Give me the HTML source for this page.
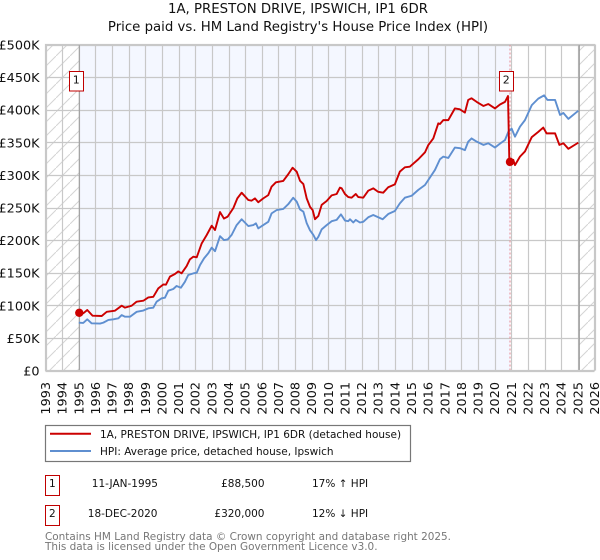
<!DOCTYPE html>
<html lang="en">
<head>
<meta charset="utf-8">
<title>1A, Preston Drive price chart</title>
<style>
html,body{margin:0;padding:0;background:#fff;width:600px;height:560px;overflow:hidden}
svg{display:block}
text{font-family:"DejaVu Sans","Liberation Sans",sans-serif;fill:#111}
</style>
</head>
<body>
<svg id="chart" xmlns="http://www.w3.org/2000/svg" width="600" height="560" viewBox="0 0 600 560">
  <defs>
    <pattern id="hatch" width="14" height="14" patternUnits="userSpaceOnUse">
      <path d="M-1 15 L15 -1" stroke="#d4d4d4" stroke-width="1" fill="none"/>
    </pattern>
  </defs>
  <text x="298" y="13" text-anchor="middle" font-size="13.3">1A, PRESTON DRIVE, IPSWICH, IP1 6DR</text>
  <text x="298" y="31" text-anchor="middle" font-size="13.3">Price paid vs. HM Land Registry's House Price Index (HPI)</text>
  <g id="plot"></g>

  <g>
    <rect x="45.5" y="425.5" width="365" height="36" fill="#fff" stroke="#777" stroke-width="1.2"/>
    <line x1="50" x2="91" y1="433.7" y2="433.7" stroke="#cc0000" stroke-width="2"/>
    <text x="100" y="438" font-size="10.5">1A, PRESTON DRIVE, IPSWICH, IP1 6DR (detached house)</text>
    <line x1="50" x2="91" y1="451" y2="451" stroke="#5f8fd0" stroke-width="2"/>
    <text x="100" y="455" font-size="10.5">HPI: Average price, detached house, Ipswich</text>
  </g>

  <g>
    <rect x="45.5" y="475.5" width="14" height="20" fill="#fff" stroke="#c00000" stroke-width="1"/>
    <text x="52.3" y="487" text-anchor="middle" font-size="10.5">1</text>
    <text x="158" y="487" text-anchor="end" font-size="10.5">11-JAN-1995</text>
    <text x="264.5" y="487" text-anchor="end" font-size="10.5">£88,500</text>
    <text x="312" y="487" font-size="10.5">17% ↑ HPI</text>
  </g>
  <g>
    <rect x="45.5" y="505.5" width="14" height="20" fill="#fff" stroke="#c00000" stroke-width="1"/>
    <text x="52.3" y="517" text-anchor="middle" font-size="10.5">2</text>
    <text x="157.5" y="517" text-anchor="end" font-size="10.5">18-DEC-2020</text>
    <text x="264.5" y="517" text-anchor="end" font-size="10.5">£320,000</text>
    <text x="312" y="517" font-size="10.5">12% ↓ HPI</text>
  </g>

  <text x="45" y="540" font-size="10.45" style="fill:#777">Contains HM Land Registry data © Crown copyright and database right 2025.</text>
  <text x="45" y="550" font-size="10.45" style="fill:#777">This data is licensed under the Open Government Licence v3.0.</text>
</svg>
<script>
const yearTicks = [1993,1994,1995,1996,1997,1998,1999,2000,2001,2002,2003,2004,2005,2006,2007,2008,2009,2010,2011,2012,2013,2014,2015,2016,2017,2018,2019,2020,2021,2022,2023,2024,2025,2026];
const priceTicks = [0,50,100,150,200,250,300,350,400,450,500];
const priceTickLabels = ["£0","£50K","£100K","£150K","£200K","£250K","£300K","£350K","£400K","£450K","£500K"];

const hpiDates = [1995.0,1995.27,1995.51,1995.77,1996.28,1996.48,1996.78,1997.08,1997.38,1997.58,1997.78,1998.08,1998.48,1998.88,1999.18,1999.48,1999.68,1999.98,2000.18,2000.38,2000.68,2000.88,2001.14,2001.38,2001.58,2001.89,2002.09,2002.29,2002.53,2002.79,2002.99,2003.19,2003.49,2003.73,2003.95,2004.19,2004.49,2004.79,2005.19,2005.49,2005.65,2005.79,2006.09,2006.39,2006.59,2006.89,2007.29,2007.59,2007.89,2008.10,2008.30,2008.50,2008.70,2008.90,2009.10,2009.26,2009.40,2009.60,2009.90,2010.20,2010.50,2010.76,2011.0,2011.20,2011.30,2011.50,2011.65,2011.90,2012.10,2012.40,2012.70,2013.0,2013.27,2013.60,2014.0,2014.30,2014.60,2015.01,2015.41,2015.81,2016.11,2016.41,2016.71,2016.91,2017.21,2017.61,2017.91,2018.21,2018.41,2018.61,2018.92,2019.32,2019.62,2020.02,2020.32,2020.62,2020.82,2021.02,2021.22,2021.52,2021.82,2022.23,2022.62,2022.97,2023.17,2023.63,2023.93,2024.13,2024.43,2025.03];
const hpiValues = [73.4,73,78.5,72.3,72,73.4,77.5,78.5,80,85,82.5,82.5,90,92,95.3,96.4,105.6,110.7,111.7,122.4,125,129.6,127,136,146.5,149,150,161.8,172,180,188.4,183,206,200,201,208,223,232,221.6,223,225.7,218,223,228,241,246,247.7,255,265,259,247,243.6,226,215,208,200,205,216.5,223,229,231,239.5,230,229,232,227,231,227,228,235,238.5,235,232,240,244.6,256.4,265,268,277,284.5,296,307.6,324,328,326,342,341,338,351,356,351,346,348.5,342,348,353.5,366,371,358.6,374,384,407,417,422,415,415,392,395,386,398.5];

const priceDates = [1995.03,1995.27,1995.51,1995.83,1996.38,1996.68,1997.18,1997.58,1997.78,1998.18,1998.48,1998.88,1999.18,1999.48,1999.78,2000.08,2000.24,2000.48,2000.78,2000.98,2001.18,2001.48,2001.68,2001.89,2002.09,2002.39,2002.69,2002.99,2003.19,2003.49,2003.73,2003.95,2004.29,2004.53,2004.79,2005.19,2005.39,2005.59,2005.79,2006.09,2006.39,2006.59,2006.85,2007.29,2007.59,2007.85,2008.10,2008.30,2008.50,2008.70,2008.90,2009.06,2009.20,2009.40,2009.60,2009.90,2010.20,2010.50,2010.70,2010.80,2011.0,2011.20,2011.40,2011.65,2011.80,2012.10,2012.40,2012.70,2013.0,2013.30,2013.60,2014.0,2014.30,2014.60,2014.90,2015.41,2015.81,2016.01,2016.31,2016.61,2016.71,2016.91,2017.21,2017.61,2017.91,2018.21,2018.41,2018.61,2018.92,2019.32,2019.62,2020.02,2020.32,2020.62,2020.80,2020.88,2020.92,2021.12,2021.22,2021.52,2021.82,2022.23,2022.62,2022.92,2023.12,2023.63,2023.89,2024.13,2024.43,2025.03];
const priceValues = [88.7,87.7,92.8,84,83.6,90,91.8,99.4,96.4,99.4,105.6,107,112,113,126,132,131.6,144,148,152,149,160,170.5,174.6,173.6,195,207.8,222,215.5,243,233,236,249,264,272.7,261.5,260.5,264,258,264,269,282,288.6,290.7,301,311,305,291,286,264,251,246,232,237,254,260,268.6,270.7,280.5,279.5,270.7,266,265,270.7,266,265,275.8,279.4,274,272.7,281,285.5,305,311.6,312.6,324,334.6,345.8,356,379,378,384,384,402,400.5,395.5,415,417.5,412,405.7,408.7,402,408,412,421,322,320,323,315,328,336,358,366,372.6,363.7,363.7,346,348.5,340,349.5];

const saleDates = [1995.03,2020.92];
const saleValues = [88.5,320];
const saleNames = ["1","2"];
const shadedStart = 1995.03;
const shadedEnd = 2020.92;
const dataEnd = 2025.08;

const SVGNS = "http://www.w3.org/2000/svg";
const plot = document.getElementById("plot");
const L = 45.5, R = 594.5, T = 44.5, B = 370.5;
function xAxis(year){ return L + (year - 1993) * (R - L) / 33; }
function yAxis(k){ return B - k * (B - T) / 500; }
function make(tag, attrs, text){
  const el = document.createElementNS(SVGNS, tag);
  for (const key in attrs) el.setAttribute(key, attrs[key]);
  if (text !== undefined) el.textContent = text;
  plot.appendChild(el);
  return el;
}

const bgEl = make("rect", {x:xAxis(shadedStart), y:T, width:xAxis(shadedEnd)-xAxis(shadedStart), height:B-T, fill:"#f4f7ff"});


const hatchLeft = make("rect", {x:L, y:T, width:xAxis(shadedStart)-L, height:B-T, fill:"url(#hatch)"});


const hatchRight = make("rect", {x:xAxis(dataEnd), y:T, width:R-xAxis(dataEnd), height:B-T, fill:"url(#hatch)"});



yearTicks.forEach(function(year){
  const gx = Math.round(xAxis(year)) + 0.5;
  const grid = make("line", {x1:gx, x2:gx, y1:T, y2:B, stroke:"#c8c8c8", "stroke-width":1.2});
  
  
  const lx = xAxis(year) + 4.5;
  const label = make("text", {x:lx, y:382, "font-size":12.8, "text-anchor":"end", transform:"rotate(-90 " + lx + " 382)"}, String(year));
  
  
});
priceTicks.forEach(function(k, i){
  const gy = Math.round(yAxis(k)) + 0.5;
  const grid = make("line", {x1:L, x2:R, y1:gy, y2:gy, stroke:"#c8c8c8", "stroke-width":1.2});
  
  
  const label = make("text", {x:39.5, y:yAxis(k)+5, "font-size":12.8, "text-anchor":"end"}, priceTickLabels[i]);
  
  
});

const endLine = make("line", {x1:xAxis(dataEnd), x2:xAxis(dataEnd), y1:T, y2:B, stroke:"#999", "stroke-width":1.3});


const startLine = make("line", {x1:xAxis(shadedStart), x2:xAxis(shadedStart), y1:T, y2:B, stroke:"#999", "stroke-width":1});


const sale2Line = make("line", {x1:xAxis(shadedEnd), x2:xAxis(shadedEnd), y1:T, y2:B, stroke:"#e88a94", "stroke-width":1, "stroke-dasharray":"2 2"});



function pathFrom(dates, values){
  return dates.map(function(d, i){ return (i ? "L" : "M") + xAxis(d).toFixed(2) + " " + yAxis(values[i]).toFixed(2); }).join(" ");
}
const hpiPath = make("path", {d:pathFrom(hpiDates, hpiValues), fill:"none", stroke:"#5f8fd0", "stroke-width":1.9, "stroke-linejoin":"round"});


const pricePath = make("path", {d:pathFrom(priceDates, priceValues), fill:"none", stroke:"#cc0000", "stroke-width":1.9, "stroke-linejoin":"round"});



saleDates.forEach(function(d, i){
  const dot = make("circle", {cx:xAxis(d), cy:yAxis(saleValues[i]), r:4.2, fill:"#cc0000"});
  
  
  const bx = Math.round(xAxis(d) - 10.5);
  const box = make("rect", {x:bx+0.5, y:71.5, width:14, height:19.5, fill:"#fff", stroke:"#c00000", "stroke-width":1});
  
  
  const num = make("text", {x:bx+7.3, y:83.5, "font-size":11, "text-anchor":"middle"}, saleNames[i]);
  
  
});
const frame = make("rect", {x:L, y:T, width:R-L, height:B-T, fill:"none", stroke:"#c8c8c8", "stroke-width":1.2});


</script>
</body>
</html>
